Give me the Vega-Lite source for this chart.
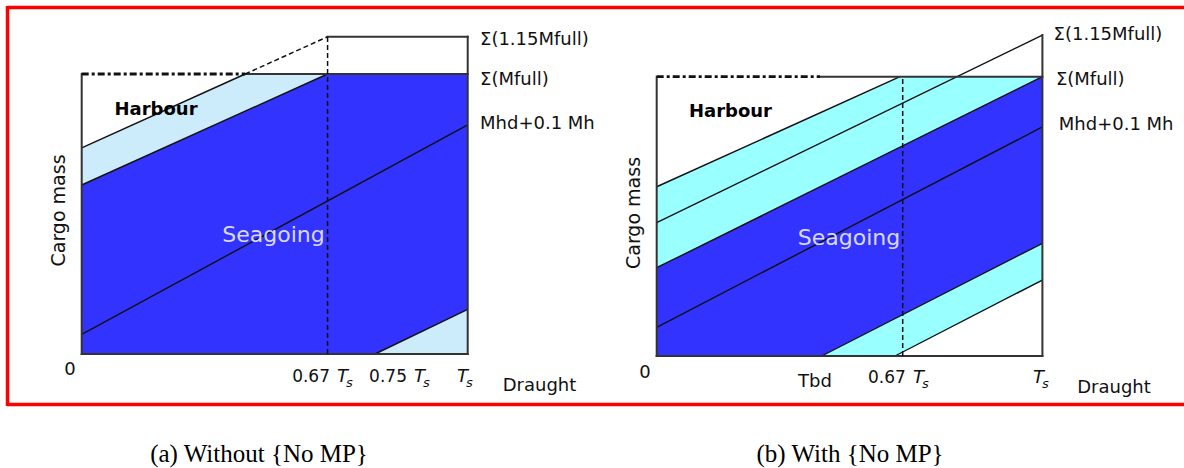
{
  "$schema": "https://vega.github.io/schema/vega-lite/v6.json",
  "padding": 0,
  "spacing": 0,
  "bounds": "flush",
  "background": "white",
  "config": {"view": {"stroke": null}},
  "resolve": {"scale": {"x": "independent", "y": "independent", "color": "independent"}},
  "datasets": {
    "aAreas": [
      {"part": "upper transition", "zone": "transition", "x": 0, "y": 0.736, "y2": 0.6036},
      {"part": "upper transition", "zone": "transition", "x": 0.4236, "y": 1, "y2": 0.8671},
      {"part": "upper transition", "zone": "transition", "x": 0.637, "y": 1, "y2": 1},
      {"part": "seagoing", "zone": "seagoing", "x": 0, "y": 0.6036, "y2": 0},
      {"part": "seagoing", "zone": "seagoing", "x": 0.637, "y": 1, "y2": 0},
      {"part": "seagoing", "zone": "seagoing", "x": 0.7598, "y": 1, "y2": 0},
      {"part": "seagoing", "zone": "seagoing", "x": 1, "y": 1, "y2": 0.1596},
      {"part": "lower transition", "zone": "transition", "x": 0.7598, "y": 0, "y2": 0},
      {"part": "lower transition", "zone": "transition", "x": 1, "y": 0.1596, "y2": 0}
    ],
    "aLines": [
      {"kind": "box", "x": 0, "y": 0, "x2": 0, "y2": 1},
      {"kind": "box", "x": 0, "y": 0, "x2": 1, "y2": 0},
      {"kind": "box", "x": 1, "y": 0, "x2": 1, "y2": 1.133},
      {"kind": "box", "x": 0.637, "y": 1.133, "x2": 1, "y2": 1.133},
      {"kind": "box", "x": 0.4236, "y": 1, "x2": 1, "y2": 1},
      {"kind": "limit", "x": 0, "y": 0.736, "x2": 0.4236, "y2": 1},
      {"kind": "limit", "x": 0, "y": 0.6036, "x2": 0.637, "y2": 1},
      {"kind": "limit", "x": 0, "y": 0.0704, "x2": 1, "y2": 0.8179},
      {"kind": "limit", "x": 0.7598, "y": 0, "x2": 1, "y2": 0.1596},
      {"kind": "reference", "x": 0.4236, "y": 1, "x2": 0.637, "y2": 1.133},
      {"kind": "reference", "x": 0.637, "y": 0, "x2": 0.637, "y2": 1.133},
      {"kind": "harbour", "x": 0, "y": 1, "x2": 0.4236, "y2": 1}
    ],
    "aFrame": [
      {"x": -0.1922, "y": 1.2375, "x2": 1.32202, "y2": 1.2375},
      {"x": -0.1922, "y": -0.1804, "x2": 1.32202, "y2": -0.1804},
      {"x": -0.1922, "y": -0.1854, "x2": -0.1922, "y2": 1.2425}
    ],
    "aSide": [
      {"label": "Σ(1.15Mfull)", "x": 1.0319, "y": 1.1214},
      {"label": "Σ(Mfull)", "x": 1.0319, "y": 0.9786},
      {"label": "Mhd+0.1 Mh", "x": 1.0319, "y": 0.8214}
    ],
    "aCenter": [
      {"label": "0", "x": -0.0306, "y": -0.0571},
      {"label": "Draught", "x": 1.186, "y": -0.1143}
    ],
    "aTicks": [
      {"num": "0.67", "x": 0.6433, "y": -0.0821},
      {"num": "0.75", "x": 0.8427, "y": -0.0821},
      {"num": "", "x": 0.9541, "y": -0.0821}
    ],
    "aTitle": [{"label": "Cargo mass", "x": -0.0601, "y": 0.5125}],
    "aZones": [
      {"zone": "Harbour", "x": 0.1925, "y": 0.8714},
      {"zone": "Seagoing", "x": 0.4969, "y": 0.425}
    ],
    "aCaption": [{"label": "(a) Without {No MP}", "x": 0.4593, "y": -0.3571}],
    "bAreas": [
      {"part": "upper transition", "zone": "transition", "x": 0, "y": 0.606, "y2": 0.316},
      {"part": "upper transition", "zone": "transition", "x": 0.6308, "y": 1, "y2": 0.7475},
      {"part": "upper transition", "zone": "transition", "x": 1, "y": 1, "y2": 1},
      {"part": "seagoing", "zone": "seagoing", "x": 0, "y": 0.316, "y2": 0},
      {"part": "seagoing", "zone": "seagoing", "x": 0.4278, "y": 0.6086, "y2": 0},
      {"part": "seagoing", "zone": "seagoing", "x": 1, "y": 1, "y2": 0.4035},
      {"part": "lower transition", "zone": "transition", "x": 0.4278, "y": 0, "y2": 0},
      {"part": "lower transition", "zone": "transition", "x": 0.6178, "y": 0.134, "y2": 0},
      {"part": "lower transition", "zone": "transition", "x": 1, "y": 0.4035, "y2": 0.2721}
    ],
    "bLines": [
      {"kind": "box", "x": 0, "y": 0, "x2": 0, "y2": 1},
      {"kind": "box", "x": 0, "y": 0, "x2": 1, "y2": 0},
      {"kind": "box", "x": 1, "y": 0, "x2": 1, "y2": 1.149},
      {"kind": "box", "x": 0.4234, "y": 1, "x2": 1, "y2": 1},
      {"kind": "limit", "x": 0, "y": 0.606, "x2": 0.6308, "y2": 1},
      {"kind": "limit", "x": 0, "y": 0.4773, "x2": 1, "y2": 1.149},
      {"kind": "limit", "x": 0, "y": 0.316, "x2": 1, "y2": 1},
      {"kind": "limit", "x": 0, "y": 0.1028, "x2": 1, "y2": 0.82},
      {"kind": "limit", "x": 0.4278, "y": 0, "x2": 1, "y2": 0.4035},
      {"kind": "limit", "x": 0.6178, "y": 0, "x2": 1, "y2": 0.2721},
      {"kind": "reference", "x": 0.6378, "y": 0, "x2": 0.6378, "y2": 1},
      {"kind": "harbour", "x": 0, "y": 1, "x2": 0.4234, "y2": 1}
    ],
    "bFrame": [
      {"x": -0.16775, "y": 1.2478, "x2": 1.36713, "y2": 1.2478},
      {"x": -0.16775, "y": -0.1736, "x2": 1.36713, "y2": -0.1736}
    ],
    "bSide": [
      {"label": "Σ(1.15Mfull)", "x": 1.029, "y": 1.149},
      {"label": "Σ(Mfull)", "x": 1.035, "y": 0.988},
      {"label": "Mhd+0.1 Mh", "x": 1.0425, "y": 0.827}
    ],
    "bCenter": [
      {"label": "0", "x": -0.0303, "y": -0.0609},
      {"label": "Tbd", "x": 0.4104, "y": -0.0931},
      {"label": "Draught", "x": 1.1857, "y": -0.1146}
    ],
    "bTicks": [
      {"num": "0.67", "x": 0.6461, "y": -0.0788},
      {"num": "", "x": 0.9575, "y": -0.0788}
    ],
    "bTitle": [{"label": "Cargo mass", "x": -0.0589, "y": 0.512}],
    "bZones": [
      {"zone": "Harbour", "x": 0.1913, "y": 0.8747},
      {"zone": "Seagoing", "x": 0.4987, "y": 0.4225}
    ],
    "bCaption": [{"label": "(b) With {No MP}", "x": 0.5012, "y": -0.3509}]
  },
  "hconcat": [
    {
      "width": 592,
      "height": 468,
      "encoding": {
        "x": {"field": "x", "type": "quantitative", "scale": {"domain": [-0.21166, 1.32202], "nice": false, "zero": false}, "axis": null},
        "y": {"field": "y", "type": "quantitative", "stack": null, "scale": {"domain": [-0.40714, 1.26429], "nice": false, "zero": false}, "axis": null}
      },
      "layer": [
        {"data": {"name": "aAreas"}, "mark": {"type": "area", "orient": "vertical", "fillOpacity": 1, "interpolate": "linear"},
         "encoding": {"y2": {"field": "y2"}, "detail": {"field": "part", "type": "nominal"},
           "color": {"field": "zone", "type": "nominal", "scale": {"domain": ["transition", "seagoing"], "range": ["#CCEBFB", "#3333FF"]}, "legend": null}}},
        {"data": {"name": "aLines"}, "transform": [{"filter": "datum.kind === 'limit'"}], "mark": {"type": "rule", "color": "#111111", "strokeWidth": 1.4},
         "encoding": {"x2": {"field": "x2"}, "y2": {"field": "y2"}}},
        {"data": {"name": "aLines"}, "transform": [{"filter": "datum.kind === 'box'"}], "mark": {"type": "rule", "color": "#333333", "strokeWidth": 2, "strokeCap": "square"},
         "encoding": {"x2": {"field": "x2"}, "y2": {"field": "y2"}}},
        {"data": {"name": "aLines"}, "transform": [{"filter": "datum.kind === 'reference'"}], "mark": {"type": "rule", "color": "#111111", "strokeWidth": 1.5, "strokeDash": [5, 3]},
         "encoding": {"x2": {"field": "x2"}, "y2": {"field": "y2"}}},
        {"data": {"name": "aLines"}, "transform": [{"filter": "datum.kind === 'harbour'"}], "mark": {"type": "rule", "color": "#111111", "strokeWidth": 2.8, "strokeDash": [7, 3, 3, 3]},
         "encoding": {"x2": {"field": "x2"}, "y2": {"field": "y2"}}},
        {"data": {"name": "aFrame"}, "mark": {"type": "rule", "color": "#FF0000", "strokeWidth": 3.5},
         "encoding": {"x2": {"field": "x2"}, "y2": {"field": "y2"}}},
        {"data": {"name": "aSide"}, "mark": {"type": "text", "align": "left", "baseline": "middle", "font": "DejaVu Sans", "fontSize": 18, "color": "#111111"},
         "encoding": {"text": {"field": "label"}}},
        {"data": {"name": "aCenter"}, "mark": {"type": "text", "align": "center", "baseline": "middle", "font": "DejaVu Sans", "fontSize": 18, "color": "#111111"},
         "encoding": {"text": {"field": "label"}}},
        {"data": {"name": "aTicks"}, "mark": {"type": "text", "align": "right", "baseline": "middle", "font": "DejaVu Sans", "fontSize": 17, "color": "#111111"},
         "encoding": {"text": {"field": "num"}}},
        {"data": {"name": "aTicks"}, "mark": {"type": "text", "align": "left", "baseline": "middle", "font": "DejaVu Sans", "fontSize": 18, "fontStyle": "italic", "dx": 7, "text": "T", "color": "#111111"}},
        {"data": {"name": "aTicks"}, "mark": {"type": "text", "align": "left", "baseline": "middle", "font": "DejaVu Sans", "fontSize": 13, "fontStyle": "italic", "dx": 16, "dy": 6, "text": "s", "color": "#111111"}},
        {"data": {"name": "aTitle"}, "mark": {"type": "text", "align": "center", "baseline": "middle", "angle": 270, "font": "DejaVu Sans", "fontSize": 19, "color": "#111111"},
         "encoding": {"text": {"field": "label"}}},
        {"data": {"name": "aZones"}, "transform": [{"filter": "datum.zone === 'Harbour'"}], "mark": {"type": "text", "align": "center", "baseline": "middle", "font": "DejaVu Sans", "fontSize": 18, "fontWeight": "bold", "color": "#000000"},
         "encoding": {"text": {"field": "zone"}}},
        {"data": {"name": "aZones"}, "transform": [{"filter": "datum.zone === 'Seagoing'"}], "mark": {"type": "text", "align": "center", "baseline": "middle", "font": "DejaVu Sans", "fontSize": 22, "color": "#DADAFF"},
         "encoding": {"text": {"field": "zone"}}},
        {"data": {"name": "aCaption"}, "mark": {"type": "text", "align": "center", "baseline": "middle", "font": "Liberation Serif", "fontSize": 25, "color": "#000000"},
         "encoding": {"text": {"field": "label"}}}
      ]
    },
    {
      "width": 592,
      "height": 468,
      "encoding": {
        "x": {"field": "x", "type": "quantitative", "scale": {"domain": [-0.16775, 1.36713], "nice": false, "zero": false}, "axis": null},
        "y": {"field": "y", "type": "quantitative", "stack": null, "scale": {"domain": [-0.401, 1.27462], "nice": false, "zero": false}, "axis": null}
      },
      "layer": [
        {"data": {"name": "bAreas"}, "mark": {"type": "area", "orient": "vertical", "fillOpacity": 1, "interpolate": "linear"},
         "encoding": {"y2": {"field": "y2"}, "detail": {"field": "part", "type": "nominal"},
           "color": {"field": "zone", "type": "nominal", "scale": {"domain": ["transition", "seagoing"], "range": ["#99FFFF", "#3333FF"]}, "legend": null}}},
        {"data": {"name": "bLines"}, "transform": [{"filter": "datum.kind === 'limit'"}], "mark": {"type": "rule", "color": "#111111", "strokeWidth": 1.4},
         "encoding": {"x2": {"field": "x2"}, "y2": {"field": "y2"}}},
        {"data": {"name": "bLines"}, "transform": [{"filter": "datum.kind === 'box'"}], "mark": {"type": "rule", "color": "#333333", "strokeWidth": 2, "strokeCap": "square"},
         "encoding": {"x2": {"field": "x2"}, "y2": {"field": "y2"}}},
        {"data": {"name": "bLines"}, "transform": [{"filter": "datum.kind === 'reference'"}], "mark": {"type": "rule", "color": "#111111", "strokeWidth": 1.5, "strokeDash": [5, 3]},
         "encoding": {"x2": {"field": "x2"}, "y2": {"field": "y2"}}},
        {"data": {"name": "bLines"}, "transform": [{"filter": "datum.kind === 'harbour'"}], "mark": {"type": "rule", "color": "#111111", "strokeWidth": 2.8, "strokeDash": [7, 3, 3, 3]},
         "encoding": {"x2": {"field": "x2"}, "y2": {"field": "y2"}}},
        {"data": {"name": "bFrame"}, "mark": {"type": "rule", "color": "#FF0000", "strokeWidth": 3.5},
         "encoding": {"x2": {"field": "x2"}, "y2": {"field": "y2"}}},
        {"data": {"name": "bSide"}, "mark": {"type": "text", "align": "left", "baseline": "middle", "font": "DejaVu Sans", "fontSize": 18, "color": "#111111"},
         "encoding": {"text": {"field": "label"}}},
        {"data": {"name": "bCenter"}, "mark": {"type": "text", "align": "center", "baseline": "middle", "font": "DejaVu Sans", "fontSize": 18, "color": "#111111"},
         "encoding": {"text": {"field": "label"}}},
        {"data": {"name": "bTicks"}, "mark": {"type": "text", "align": "right", "baseline": "middle", "font": "DejaVu Sans", "fontSize": 17, "color": "#111111"},
         "encoding": {"text": {"field": "num"}}},
        {"data": {"name": "bTicks"}, "mark": {"type": "text", "align": "left", "baseline": "middle", "font": "DejaVu Sans", "fontSize": 18, "fontStyle": "italic", "dx": 7, "text": "T", "color": "#111111"}},
        {"data": {"name": "bTicks"}, "mark": {"type": "text", "align": "left", "baseline": "middle", "font": "DejaVu Sans", "fontSize": 13, "fontStyle": "italic", "dx": 16, "dy": 6, "text": "s", "color": "#111111"}},
        {"data": {"name": "bTitle"}, "mark": {"type": "text", "align": "center", "baseline": "middle", "angle": 270, "font": "DejaVu Sans", "fontSize": 19, "color": "#111111"},
         "encoding": {"text": {"field": "label"}}},
        {"data": {"name": "bZones"}, "transform": [{"filter": "datum.zone === 'Harbour'"}], "mark": {"type": "text", "align": "center", "baseline": "middle", "font": "DejaVu Sans", "fontSize": 18, "fontWeight": "bold", "color": "#000000"},
         "encoding": {"text": {"field": "zone"}}},
        {"data": {"name": "bZones"}, "transform": [{"filter": "datum.zone === 'Seagoing'"}], "mark": {"type": "text", "align": "center", "baseline": "middle", "font": "DejaVu Sans", "fontSize": 22, "color": "#DADAFF"},
         "encoding": {"text": {"field": "zone"}}},
        {"data": {"name": "bCaption"}, "mark": {"type": "text", "align": "center", "baseline": "middle", "font": "Liberation Serif", "fontSize": 25, "color": "#000000"},
         "encoding": {"text": {"field": "label"}}}
      ]
    }
  ]
}
